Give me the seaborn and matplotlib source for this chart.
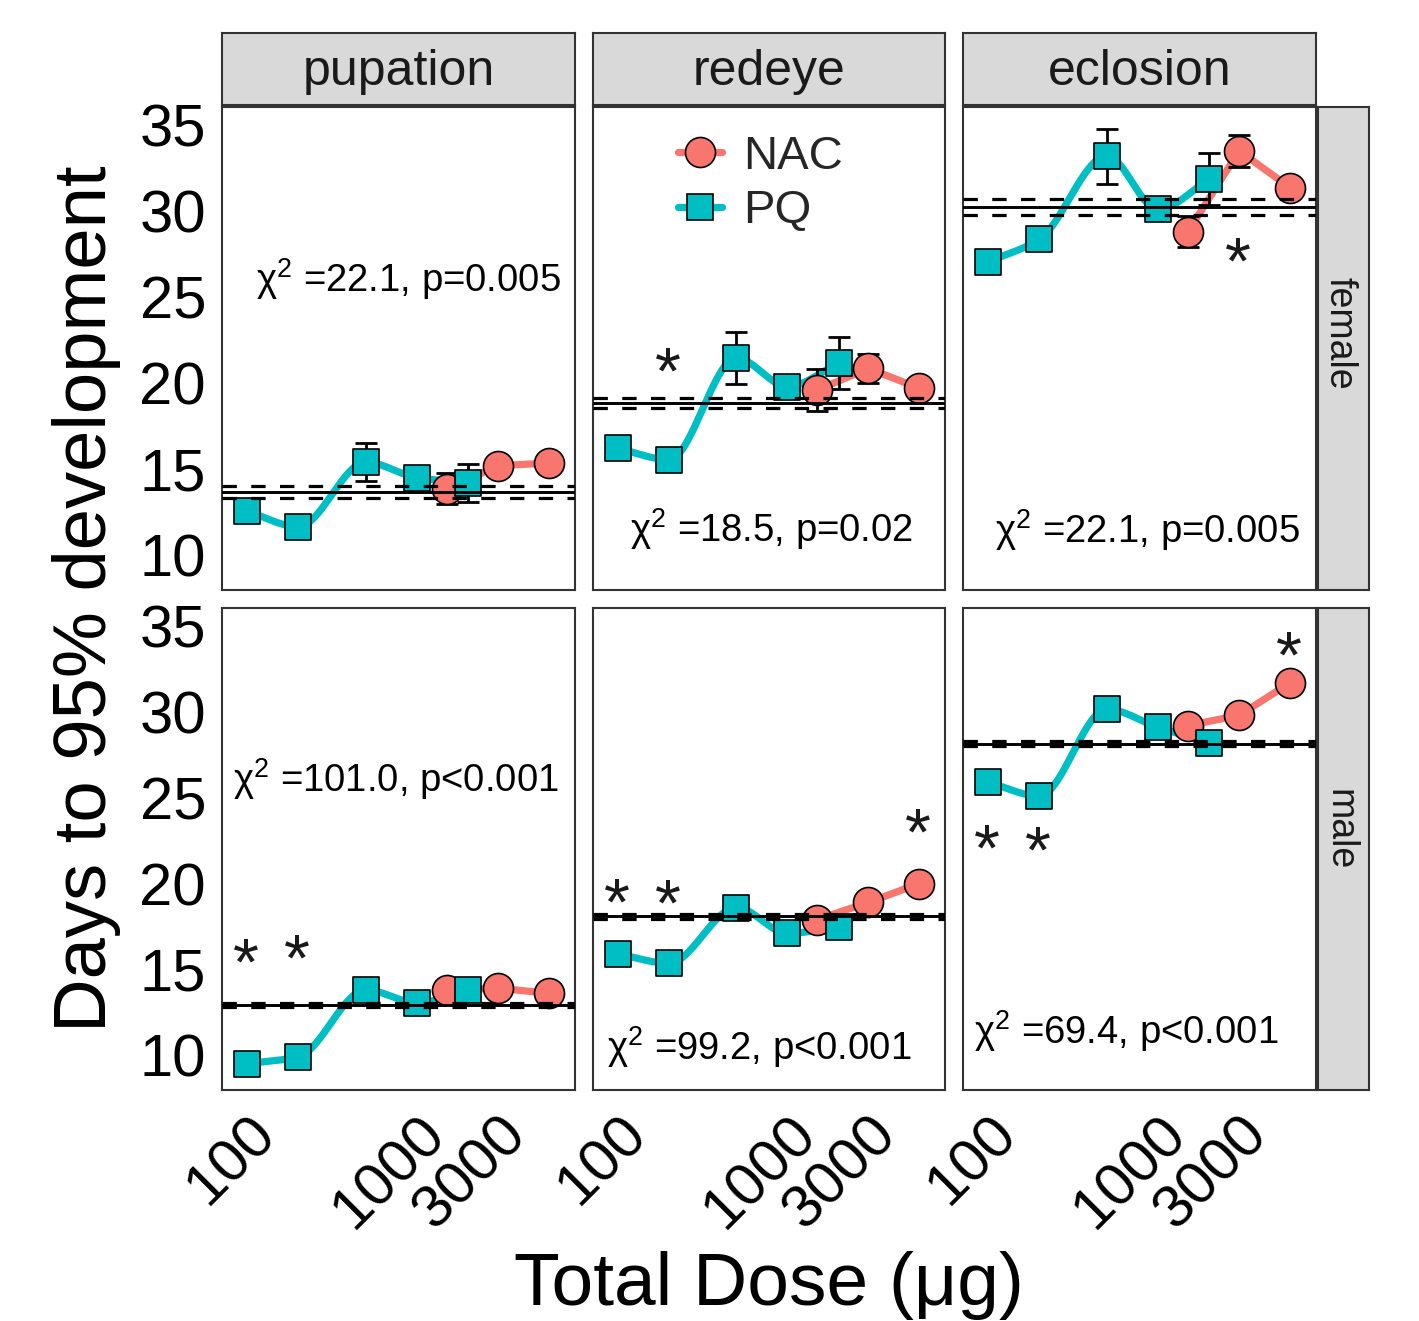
import numpy as np
import pandas as pd
import matplotlib
matplotlib.use("Agg")
import matplotlib.pyplot as plt
import seaborn as sns
from matplotlib.lines import Line2D
from matplotlib.ticker import NullLocator, FixedLocator, FixedFormatter

# ---------------- data ----------------
stages = ["pupation", "redeye", "eclosion"]
sexes = ["female", "male"]
treatments = ["NAC", "PQ"]

pq_doses = [100, 200, 500, 1000, 2000]
nac_doses = [1500, 3000, 6000]

pq_female_pupation = [12.55, 11.65, 15.4, 14.5, 14.2]
pq_female_pupation_se = [0.35, 0.3, 1.1, 0.4, 1.1]
nac_female_pupation = [13.85, 15.2, 15.35]
nac_female_pupation_se = [0.9, 0.3, 0.3]

pq_female_redeye = [16.2, 15.55, 21.45, 19.8, 21.15]
pq_female_redeye_se = [0.3, 0.3, 1.5, 0.3, 1.5]
nac_female_redeye = [19.6, 20.85, 19.7]
nac_female_redeye_se = [1.2, 0.85, 0.3]

pq_female_eclosion = [27.05, 28.35, 33.2, 30.1, 31.85]
pq_female_eclosion_se = [0.3, 0.3, 1.6, 0.6, 1.5]
nac_female_eclosion = [28.8, 33.5, 31.35]
nac_female_eclosion_se = [0.9, 0.95, 0.3]

pq_male_pupation = [9.5, 9.9, 13.8, 13.05, 13.8]
pq_male_pupation_se = [0.25, 0.25, 0.25, 0.25, 0.25]
nac_male_pupation = [13.8, 13.9, 13.6]
nac_male_pupation_se = [0.2, 0.2, 0.2]

pq_male_redeye = [15.9, 15.35, 18.6, 17.1, 17.45]
pq_male_redeye_se = [0.25, 0.25, 0.25, 0.25, 0.25]
nac_male_redeye = [17.9, 18.9, 20.0]
nac_male_redeye_se = [0.2, 0.2, 0.2]

pq_male_eclosion = [25.9, 25.1, 30.15, 29.1, 28.2]
pq_male_eclosion_se = [0.25, 0.25, 0.25, 0.25, 0.25]
nac_male_eclosion = [29.2, 29.8, 31.7]
nac_male_eclosion_se = [0.2, 0.2, 0.2]

# control reference (mean and CI half-width)
ref_female = [13.65, 18.85, 30.25]
ref_female_ci = [0.35, 0.3, 0.47]
ref_male = [12.9, 18.08, 28.15]
ref_male_ci = [0.12, 0.15, 0.15]

# chi-square annotations
chi_female = ["=22.1, p=0.005", "=18.5, p=0.02", "=22.1, p=0.005"]
chi_male = ["=101.0, p<0.001", "=99.2, p<0.001", "=69.4, p<0.001"]
chi_female_x = [890, 806, 871]
chi_female_y = [25.29, 10.77, 10.68]
chi_male_x = [752, 679, 646]
chi_male_y = [25.31, 9.71, 10.68]

# significance asterisks (dose, glyph-centre y)
star_female_x = [[], [200], [3000]]
star_female_y = [[], [21.24], [27.63]]
star_male_x = [[100, 200], [100, 200, 6000], [100, 200, 6000]]
star_male_y = [[16.0, 16.2], [19.5, 19.4, 23.56], [22.6, 22.5, 33.84]]

x_ticks = [100, 1000, 3000]
x_ticklabels = ["100", "1000", "3000"]
y_ticks = [10, 15, 20, 25, 30, 35]

# ---------------- tidy table ----------------
rows = []
series = {
    ("female", "pupation"): (pq_female_pupation, pq_female_pupation_se, nac_female_pupation, nac_female_pupation_se),
    ("female", "redeye"): (pq_female_redeye, pq_female_redeye_se, nac_female_redeye, nac_female_redeye_se),
    ("female", "eclosion"): (pq_female_eclosion, pq_female_eclosion_se, nac_female_eclosion, nac_female_eclosion_se),
    ("male", "pupation"): (pq_male_pupation, pq_male_pupation_se, nac_male_pupation, nac_male_pupation_se),
    ("male", "redeye"): (pq_male_redeye, pq_male_redeye_se, nac_male_redeye, nac_male_redeye_se),
    ("male", "eclosion"): (pq_male_eclosion, pq_male_eclosion_se, nac_male_eclosion, nac_male_eclosion_se),
}
for (sex, stage), (pqm, pqs, nm, ns) in series.items():
    for d, m, s in zip(pq_doses, pqm, pqs):
        rows.append(dict(sex=sex, stage=stage, treatment="PQ", dose=d, days=m, se=s))
    for d, m, s in zip(nac_doses, nm, ns):
        rows.append(dict(sex=sex, stage=stage, treatment="NAC", dose=d, days=m, se=s))
df = pd.DataFrame(rows)

# ---------------- style ----------------
sns.set_theme(style="white")
plt.rcParams["font.family"] = ["Liberation Sans", "DejaVu Sans"]
plt.rcParams["mathtext.fontset"] = "custom"
plt.rcParams["mathtext.rm"] = "Liberation Sans"
plt.rcParams["mathtext.it"] = "Liberation Sans:italic"
plt.rcParams["mathtext.bf"] = "Liberation Sans:bold"
plt.rcParams["mathtext.default"] = "regular"

NAC_C = "#F8766D"
PQ_C = "#00BFC4"
BORDER = "#333333"
STRIP = "#D9D9D9"

W, H = 1419, 1321
fig = plt.figure(figsize=(W / 100, H / 100), dpi=100)


def rect(x0, y0, x1, y1):
    return [x0 / W, 1 - y1 / H, (x1 - x0) / W, (y1 - y0) / H]


def smooth_curve(x, y, per=40):
    """Monotone cubic (PCHIP-style) drawing path in log-x space."""
    lx = np.log10(np.asarray(x, float))
    y = np.asarray(y, float)
    h = np.diff(lx)
    delta = np.diff(y) / h
    n = len(lx)
    d = np.zeros(n)
    for k in range(1, n - 1):
        if delta[k - 1] * delta[k] > 0:
            w1 = 2 * h[k] + h[k - 1]
            w2 = h[k] + 2 * h[k - 1]
            d[k] = (w1 + w2) / (w1 / delta[k - 1] + w2 / delta[k])
    d[0] = delta[0]
    d[-1] = delta[-1]
    xs, ys = [], []
    t = np.linspace(0, 1, per)
    for k in range(n - 1):
        h00 = 2 * t**3 - 3 * t**2 + 1
        h10 = t**3 - 2 * t**2 + t
        h01 = -2 * t**3 + 3 * t**2
        h11 = t**3 - t**2
        yy = h00 * y[k] + h10 * h[k] * d[k] + h01 * y[k + 1] + h11 * h[k] * d[k + 1]
        xs.append(lx[k] + t * h[k])
        ys.append(yy)
    return 10 ** np.concatenate(xs), np.concatenate(ys)


col_x = [(222, 575), (593, 945), (963, 1316)]
row_y = [(107, 590), (608, 1090)]
XLIM = (10 ** 1.853, 10 ** 3.929)
YLIM = (7.97, 36.05)

sq_ms = 18.7
ci_ms = 21.6

for r, sex in enumerate(sexes):
    for c, stage in enumerate(stages):
        x0, x1 = col_x[c]
        y0, y1 = row_y[r]
        ax = fig.add_axes(rect(x0, y0, x1, y1))
        ax.set_xscale("log")
        sub = df[(df.sex == sex) & (df.stage == stage)]
        pq = sub[sub.treatment == "PQ"].sort_values("dose")
        nac = sub[sub.treatment == "NAC"].sort_values("dose")

        # lines
        cx, cy = smooth_curve(pq.dose.values, pq.days.values)
        sns.lineplot(x=cx, y=cy, ax=ax, color=PQ_C, lw=5.2, sort=False,
                     estimator=None, zorder=2)
        sns.lineplot(data=nac, x="dose", y="days", ax=ax, color=NAC_C, lw=5.2,
                     estimator=None, zorder=2)

        # error bars
        ax.errorbar(sub.dose, sub.days, yerr=sub.se, fmt="none", ecolor="black",
                    elinewidth=2, capsize=8, capthick=2, zorder=3)

        # points
        sns.scatterplot(data=nac, x="dose", y="days", ax=ax, marker="o",
                        s=ci_ms**2, color=NAC_C, edgecolor="black",
                        linewidth=1.2, zorder=4)
        sns.scatterplot(data=pq, x="dose", y="days", ax=ax, marker="s",
                        s=sq_ms**2, color=PQ_C, edgecolor="black",
                        linewidth=1.2, zorder=4)

        # reference lines
        ref = (ref_female if sex == "female" else ref_male)[c]
        ci = (ref_female_ci if sex == "female" else ref_male_ci)[c]
        ax.axhline(ref, color="black", lw=2.1, zorder=5)
        for v in (ref - ci, ref + ci):
            ax.axhline(v, color="black", lw=2.3, dashes=(4.5, 4.5), zorder=5)

        # chi text
        if sex == "female":
            txt, tx, ty = chi_female[c], chi_female_x[c], chi_female_y[c]
            sx, sy = star_female_x[c], star_female_y[c]
        else:
            txt, tx, ty = chi_male[c], chi_male_x[c], chi_male_y[c]
            sx, sy = star_male_x[c], star_male_y[c]
        ax.text(tx, ty, r"$\chi^{2}$ " + txt, ha="center", va="baseline",
                fontsize=27.5, color="black", zorder=6)
        for xx, yy in zip(sx, sy):
            ax.annotate("*", (xx, yy), xytext=(-1, -23), textcoords="offset points",
                        ha="center", va="baseline", fontsize=48, color="#1A1A1A",
                        zorder=6)

        ax.set_xlim(*XLIM)
        ax.set_ylim(*YLIM)
        ax.xaxis.set_minor_locator(NullLocator())
        ax.yaxis.set_minor_locator(NullLocator())
        ax.set_xlabel("")
        ax.set_ylabel("")
        ax.grid(False)
        for sp in ax.spines.values():
            sp.set_color(BORDER)
            sp.set_linewidth(1.5)
            sp.set_visible(True)
        ax.tick_params(axis="both", which="both", direction="out", length=6.5,
                       width=1.4, color=BORDER, labelsize=43, pad=5,
                       labelcolor="black")
        ax.set_yticks(y_ticks)
        ax.xaxis.set_major_locator(FixedLocator(x_ticks))
        ax.xaxis.set_major_formatter(FixedFormatter(x_ticklabels))
        if c != 0:
            ax.tick_params(axis="y", left=False, labelleft=False)
        if r != 1:
            ax.tick_params(axis="x", bottom=False, labelbottom=False)
        else:
            for lab in ax.get_xticklabels():
                lab.set_rotation(45)
                lab.set_ha("right")
                lab.set_va("top")
                lab.set_rotation_mode("anchor")

        if r == 0 and c == 1:
            handles = [
                Line2D([], [], color=NAC_C, lw=5.2, marker="o", markersize=ci_ms,
                       markerfacecolor=NAC_C, markeredgecolor="black",
                       markeredgewidth=1.2),
                Line2D([], [], color=PQ_C, lw=5.2, marker="s", markersize=sq_ms,
                       markerfacecolor=PQ_C, markeredgecolor="black",
                       markeredgewidth=1.2),
            ]
            fig.legend(handles, treatments, loc="center left",
                       bbox_to_anchor=(678 / W, 1 - 184 / H),
                       bbox_transform=fig.transFigure, frameon=False,
                       fontsize=34, handlelength=0.93, handletextpad=0.45,
                       labelspacing=0.22, borderpad=0, borderaxespad=0)

# strips
for c, stage in enumerate(stages):
    x0, x1 = col_x[c]
    sa = fig.add_axes(rect(x0, 33, x1, 105))
    sa.set_facecolor(STRIP)
    sa.set_xticks([]); sa.set_yticks([])
    for sp in sa.spines.values():
        sp.set_color(BORDER); sp.set_linewidth(1.5)
    sa.text(0.5, 0.46, stage, transform=sa.transAxes, ha="center", va="center",
            fontsize=36, color="#1A1A1A")
strip_text_y = [333, 830]
for r, sex in enumerate(sexes):
    y0, y1 = row_y[r]
    sa = fig.add_axes(rect(1318, y0, 1369, y1))
    sa.set_facecolor(STRIP)
    sa.set_xticks([]); sa.set_yticks([])
    for sp in sa.spines.values():
        sp.set_color(BORDER); sp.set_linewidth(1.5)
    fig.text(1339 / W, 1 - strip_text_y[r] / H, sex, ha="center", va="center",
             rotation=-90, fontsize=27, color="#1A1A1A")

# axis titles
fig.text(87 / W, 1 - 598.5 / H, "Days to 95% development", rotation=90,
         ha="center", va="center", fontsize=53.5, color="black")
fig.text(769 / W, 1 - 1305 / H, "Total Dose (\u03bcg)", ha="center",
         va="baseline", fontsize=54, color="black")

fig.savefig("out.png", dpi=100)
